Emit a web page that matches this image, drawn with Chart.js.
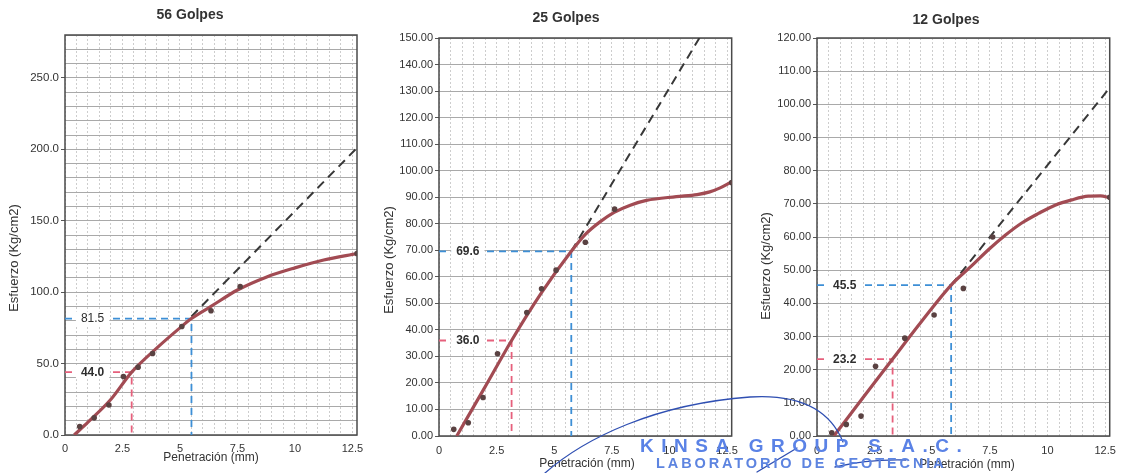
<!DOCTYPE html>
<html lang="es">
<head>
<meta charset="utf-8">
<title>Esfuerzo vs Penetración</title>
<script src="https://cdn.jsdelivr.net/npm/chart.js@4.4.1/dist/chart.umd.min.js"></script>
<style>
  html, body { margin: 0; padding: 0; background: #fff; }
  #page { position: relative; width: 1124px; height: 473px; overflow: hidden; background: #fff; }
  #page canvas { position: absolute; top: 0; }
  #sello { position: absolute; left: 0; top: 0; pointer-events: none; }
</style>
</head>
<body>
<div id="page">
  <canvas id="c56"></canvas>
  <canvas id="c25"></canvas>
  <canvas id="c12"></canvas>
  <svg id="sello" width="1124" height="473" xmlns="http://www.w3.org/2000/svg">
    <g fill="none" stroke="#2f4fb2" stroke-width="1.3" stroke-linecap="round">
      <path d="M545,473 C585,438 655,404 750,397 C800,394 830,410 843,442"/>
      <path d="M757,472 L797,448"/>
      <path d="M835,467 Q868,459 906,460"/>
    </g>
    <text x="640" y="452" font-family="Liberation Sans, Arial, sans-serif" font-weight="bold"
          font-size="19" letter-spacing="7.5" fill="#5a82e6">KINSA GROUP S.A.C.</text>
    <text x="656" y="468" font-family="Liberation Sans, Arial, sans-serif" font-weight="bold"
          font-size="14.5" letter-spacing="2.9" fill="#5d84e0">LABORATORIO DE GEOTECNIA</text>
  </svg>
</div>
<script>
// ---- 56 golpes ----
const pen56 = [0.64, 1.27, 1.91, 2.54, 3.18, 3.81, 5.08, 6.35, 7.62, 12.70];
const esf56 = [6.0, 12.0, 21.0, 41.0, 47.5, 57.0, 76.0, 87.0, 104.0, 127.0];
const curvaPen56 = [0.40, 1.00, 2.00, 2.90, 4.00, 5.00, 5.50, 6.35, 7.50, 8.75, 10.00, 11.25, 12.70];
const curvaEsf56 = [0.0, 9.0, 25.0, 44.0, 61.0, 75.0, 81.5, 90.0, 101.5, 110.5, 117.0, 122.5, 127.0];
const tanPen56 = [5.50, 12.70];
const tanEsf56 = [83.0, 201.0];
const refPen56 = [2.90, 5.50];
const refEsf56 = [44.0, 81.5];
const yTicks56 = [0, 50, 100, 150, 200, 250];

// ---- 25 golpes ----
const pen25 = [0.64, 1.27, 1.91, 2.54, 3.81, 4.45, 5.08, 6.35, 7.62, 12.70];
const esf25 = [2.5, 5.0, 14.5, 31.0, 46.5, 55.5, 62.5, 73.0, 85.5, 95.5];
const curvaPen25 = [0.77, 2.00, 3.15, 4.45, 5.74, 6.35, 7.00, 7.60, 8.30, 9.00, 10.30, 11.20, 11.75, 12.20, 12.70];
const curvaEsf25 = [0.0, 18.5, 36.0, 54.0, 69.6, 76.0, 80.8, 84.3, 87.0, 88.8, 90.2, 91.0, 92.0, 93.5, 95.8];
const tanPen25 = [5.74, 11.30];
const tanEsf25 = [69.6, 150.0];
const refPen25 = [3.15, 5.74];
const refEsf25 = [36.0, 69.6];
const yTicks25 = [0, 10, 20, 30, 40, 50, 60, 70, 80, 90, 100, 110, 120, 130, 140, 150];

// ---- 12 golpes ----
const pen12 = [0.64, 1.27, 1.91, 2.54, 3.81, 5.08, 6.35, 7.62, 12.70];
const esf12 = [1.0, 3.5, 6.0, 21.0, 29.5, 36.5, 44.5, 60.0, 72.0];
const curvaPen12 = [0.73, 2.00, 3.28, 4.50, 5.82, 6.74, 7.46, 8.18, 8.90, 9.61, 10.33, 11.05, 11.77, 12.30, 12.70];
const curvaEsf12 = [0.0, 11.6, 23.2, 34.2, 45.5, 51.5, 56.3, 60.6, 64.3, 67.1, 69.6, 71.2, 72.3, 72.4, 71.8];
const tanPen12 = [5.82, 12.70];
const tanEsf12 = [45.5, 105.0];
const refPen12 = [3.28, 5.82];
const refEsf12 = [23.2, 45.5];
const yTicks12 = [0, 10, 20, 30, 40, 50, 60, 70, 80, 90, 100, 110, 120];

// ---- shared axis ----
const xTicks = [0, 2.5, 5, 7.5, 10, 12.5];
const xMax = 12.7;
const tituloY = 'Esfuerzo (Kg/cm2)';
const tituloX = 'Penetración (mm)';

const FONT = '"Liberation Sans", Arial, Helvetica, sans-serif';
const H = 473;

const paneles = [
  { id: 'c56', titulo: '56 Golpes', pen: pen56, esf: esf56, cPen: curvaPen56, cEsf: curvaEsf56,
    tPen: tanPen56, tEsf: tanEsf56, rPen: refPen56, rEsf: refEsf56, yTicks: yTicks56, yMax: 280, dec: 1,
    boldRef: [true, false],
    lay: { left: 0, width: 372, l: 65, t: 35, r: 357, b: 435, title: [190, 15], yTitle: [14, 258],
           xTitle: [211, 458], xPad: 7, labelMm: 1.2, yFont: 11.5 } },
  { id: 'c25', titulo: '25 Golpes', pen: pen25, esf: esf25, cPen: curvaPen25, cEsf: curvaEsf25,
    tPen: tanPen25, tEsf: tanEsf25, rPen: refPen25, rEsf: refEsf25, yTicks: yTicks25, yMax: 150, dec: 2,
    boldRef: [true, true],
    lay: { left: 372, width: 374, l: 439, t: 38, r: 732, b: 436, title: [566, 18], yTitle: [389, 260],
           xTitle: [587, 464], xPad: 8, labelMm: 1.25, yFont: 11 } },
  { id: 'c12', titulo: '12 Golpes', pen: pen12, esf: esf12, cPen: curvaPen12, cEsf: curvaEsf12,
    tPen: tanPen12, tEsf: tanEsf12, rPen: refPen12, rEsf: refEsf12, yTicks: yTicks12, yMax: 120, dec: 2,
    boldRef: [true, true],
    lay: { left: 746, width: 378, l: 817, t: 38, r: 1112, b: 436, title: [946, 20], yTitle: [766, 266],
           xTitle: [967, 465], xPad: 8, labelMm: 1.2, yFont: 11 } }
];

const toPts = (xs, ys) => xs.map((x, i) => ({ x: x, y: ys[i] }));

function crearPanel(p) {
  const lay = p.lay;
  const cv = document.getElementById(p.id);
  cv.width = lay.width;
  cv.height = H;
  cv.style.left = lay.left + 'px';

  const refLinea = i => [
    { x: 0, y: p.rEsf[i] },
    { x: p.rPen[i], y: p.rEsf[i] },
    { x: p.rPen[i], y: 0 }
  ];

  // frame, reading labels and titles
  const adornos = {
    id: 'adornos',
    beforeDatasetsDraw(chart) {
      const a = chart.chartArea, ctx = chart.ctx;
      ctx.save();
      ctx.strokeStyle = '#4a4a4a';
      ctx.lineWidth = 1.5;
      ctx.strokeRect(a.left, a.top, a.right - a.left, a.bottom - a.top);
      ctx.restore();
    },
    afterDatasetsDraw(chart) {
      const ctx = chart.ctx, xs = chart.scales.x, ys = chart.scales.y;
      ctx.save();
      p.rEsf.forEach((v, i) => {
        const txt = v.toFixed(1);
        ctx.font = (p.boldRef[i] ? 'bold ' : '') + '12px ' + FONT;
        const w = ctx.measureText(txt).width + 10;
        const cx = xs.getPixelForValue(lay.labelMm);
        const cy = ys.getPixelForValue(v);
        ctx.fillStyle = '#fff';
        ctx.fillRect(cx - w / 2, cy - 7, w, 14);
        ctx.fillStyle = '#2e2e2e';
        ctx.textAlign = 'center';
        ctx.textBaseline = 'middle';
        ctx.fillText(txt, cx, cy + 0.5);
      });
      ctx.restore();
    },
    afterDraw(chart) {
      const ctx = chart.ctx, off = lay.left;
      ctx.save();
      ctx.fillStyle = '#333';
      ctx.textAlign = 'center';
      ctx.textBaseline = 'middle';
      ctx.font = 'bold 14px ' + FONT;
      ctx.fillText(p.titulo, lay.title[0] - off, lay.title[1]);
      ctx.font = '12px ' + FONT;
      ctx.fillText(tituloX, lay.xTitle[0] - off, lay.xTitle[1]);
      ctx.translate(lay.yTitle[0] - off, lay.yTitle[1]);
      ctx.rotate(-Math.PI / 2);
      ctx.font = '13px ' + FONT;
      ctx.fillText(tituloY, 0, 0);
      ctx.restore();
    }
  };

  new Chart(cv, {
    type: 'scatter',
    data: {
      datasets: [
        { data: toPts(p.pen, p.esf), showLine: false, pointRadius: 2.8, pointBorderWidth: 0,
          pointBackgroundColor: '#5a4242', order: 0 },
        { data: toPts(p.cPen, p.cEsf), showLine: true, borderColor: '#a24b53', borderWidth: 3.2,
          pointRadius: 0, cubicInterpolationMode: 'monotone', order: 1 },
        { data: toPts(p.tPen, p.tEsf), showLine: true, borderColor: '#383838', borderWidth: 2,
          borderDash: [9, 6], pointRadius: 0, order: 2 },
        { data: refLinea(1), showLine: true, borderColor: '#3d8fd6', borderWidth: 1.8,
          borderDash: [7, 5], pointRadius: 0, tension: 0, order: 3 },
        { data: refLinea(0), showLine: true, borderColor: '#e6607c', borderWidth: 1.8,
          borderDash: [7, 5], pointRadius: 0, tension: 0, order: 4 }
      ]
    },
    options: {
      responsive: false,
      animation: false,
      events: [],
      layout: { padding: { left: 0, top: lay.t, right: lay.width - (lay.r - lay.left), bottom: 0 } },
      plugins: { legend: { display: false }, tooltip: { enabled: false }, title: { display: false } },
      scales: {
        x: {
          type: 'linear', min: 0, max: xMax,
          afterBuildTicks: s => {
            const t = [];
            for (let i = 0; i * 0.5 <= xMax; i++) t.push({ value: i * 0.5 });
            s.ticks = t;
          },
          afterFit: s => { s.height = H - lay.b; },
          ticks: {
            autoSkip: false, maxRotation: 0, minRotation: 0, padding: lay.xPad,
            color: '#333', font: { family: FONT, size: 11 },
            callback: v => xTicks.includes(v) ? String(v) : ''
          },
          grid: { color: '#cdcdcd', lineWidth: 1, drawTicks: false },
          border: { display: false, dash: [2, 2] }
        },
        y: {
          type: 'linear', min: 0, max: p.yMax,
          afterBuildTicks: s => {
            const t = [];
            for (let v = 0; v <= p.yMax; v += 10) t.push({ value: v });
            s.ticks = t;
          },
          afterFit: s => { s.width = lay.l - lay.left; },
          ticks: {
            autoSkip: false, padding: 2, color: '#333', font: { family: FONT, size: lay.yFont },
            callback: v => p.yTicks.includes(v) ? v.toFixed(p.dec) : ''
          },
          grid: {
            color: '#a9a9a9', lineWidth: 1, tickLength: 4,
            tickColor: ctx => (ctx.tick && p.yTicks.includes(ctx.tick.value)) ? '#555' : 'rgba(0,0,0,0)'
          },
          border: { display: false }
        }
      }
    },
    plugins: [adornos]
  });
}

paneles.forEach(crearPanel);
</script>
</body>
</html>
